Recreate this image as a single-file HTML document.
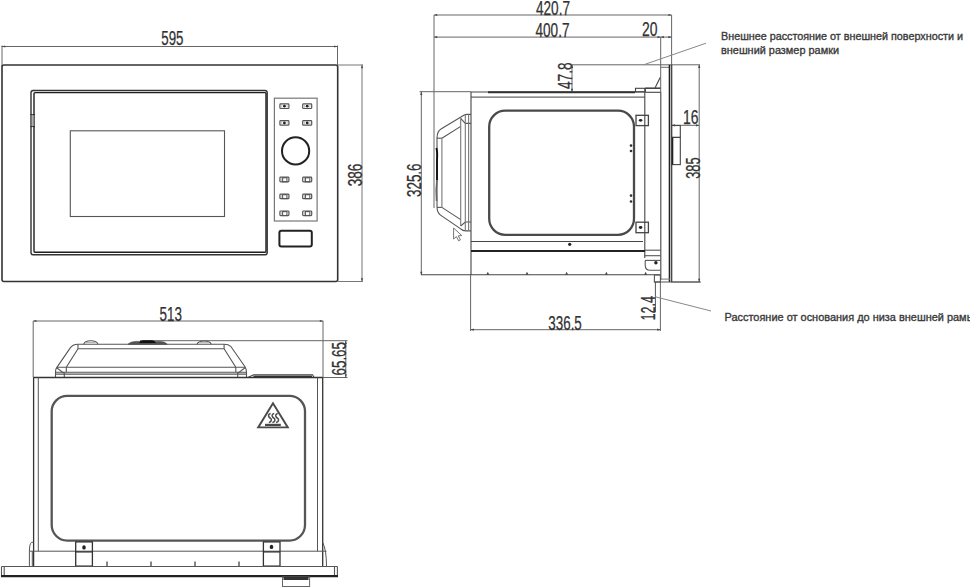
<!DOCTYPE html>
<html><head><meta charset="utf-8">
<style>
html,body{margin:0;padding:0;background:#fff;width:970px;height:588px;overflow:hidden}
svg{display:block}
.d{font-family:"Liberation Sans",sans-serif;font-size:20.5px;fill:#333}
.t{font-family:"Liberation Sans",sans-serif;font-size:11px;fill:#3a3a3a;stroke:#3a3a3a;stroke-width:0.35px}
</style></head><body>
<svg width="970" height="588" viewBox="0 0 970 588">
<rect width="970" height="588" fill="#fff"/>

<!-- ============ FRONT VIEW ============ -->
<g id="front" fill="none" stroke-linecap="square">
  <!-- dimension 595 -->
  <g stroke="#666" stroke-width="1">
    <line x1="2" y1="46.5" x2="337.5" y2="46.5"/>
    <line x1="2" y1="46" x2="2" y2="66"/>
    <line x1="337.5" y1="46" x2="337.5" y2="66"/>
  </g>
  <text class="d" x="161.3" y="44.8" textLength="22.2" lengthAdjust="spacingAndGlyphs" stroke="#2a2a2a" stroke-width="0.25">595</text>
  <!-- frame -->
  <rect x="2" y="65" width="335.7" height="216.5" rx="2" stroke="#333" stroke-width="1.6"/>
  <!-- door -->
  <rect x="31" y="90.5" width="236.2" height="164.3" rx="2.2" stroke="#333" stroke-width="1.4"/>
  <rect x="34" y="92.6" width="232" height="159.7" rx="1" stroke="#1e1e1e" stroke-width="1.4"/>
  <rect x="31.9" y="115" width="1.6" height="11.3" fill="#b5b5b5"/>
  <line x1="31" y1="114.6" x2="34.5" y2="114.6" stroke="#222" stroke-width="0.9"/>
  <line x1="31" y1="126.6" x2="34.5" y2="126.6" stroke="#222" stroke-width="0.9"/>
  <!-- window -->
  <rect x="70.3" y="130.8" width="154.2" height="85.7" stroke="#555" stroke-width="1.1"/>
  <!-- control panel -->
  <rect x="274.4" y="98.2" width="42.7" height="122.8" stroke="#777" stroke-width="1.2"/>
  <!-- knob -->
  <circle cx="295.6" cy="150.9" r="13.6" stroke="#222" stroke-width="2"/>
  <!-- start button -->
  <rect x="279.4" y="230.8" width="32.4" height="15.6" rx="2" stroke="#222" stroke-width="2"/>
  <!-- dimension 386 -->
  <g stroke="#777" stroke-width="1">
    <line x1="362" y1="65" x2="362" y2="281.5"/>
    <line x1="338" y1="65" x2="362.5" y2="65"/>
    <line x1="338" y1="281.5" x2="362.5" y2="281.5"/>
  </g>
  <text class="d" transform="translate(361.8 186.3) rotate(-90)" textLength="22.5" lengthAdjust="spacingAndGlyphs" stroke="#2a2a2a" stroke-width="0.25">386</text>
</g>
<!-- BUTTONS -->
<g id="btns" fill="none" stroke="#555" stroke-width="1.2">
<rect x="279.9" y="103.9" width="9.0" height="4.6" rx="0.8"/>
<circle cx="284.4" cy="106.2" r="1.4" fill="#222" stroke="none"/>
<line x1="281.7" y1="104.7" x2="281.7" y2="107.7" stroke="#aaa" stroke-width="0.7"/>
<line x1="287.1" y1="104.7" x2="287.1" y2="107.7" stroke="#aaa" stroke-width="0.7"/>
<rect x="302.7" y="103.9" width="9.0" height="4.6" rx="0.8"/>
<circle cx="307.2" cy="106.2" r="1.4" fill="#222" stroke="none"/>
<line x1="304.5" y1="104.7" x2="304.5" y2="107.7" stroke="#aaa" stroke-width="0.7"/>
<line x1="309.9" y1="104.7" x2="309.9" y2="107.7" stroke="#aaa" stroke-width="0.7"/>
<rect x="279.9" y="120.6" width="9.0" height="4.6" rx="0.8"/>
<circle cx="284.4" cy="122.9" r="1.4" fill="#222" stroke="none"/>
<line x1="281.7" y1="121.4" x2="281.7" y2="124.4" stroke="#aaa" stroke-width="0.7"/>
<line x1="287.1" y1="121.4" x2="287.1" y2="124.4" stroke="#aaa" stroke-width="0.7"/>
<rect x="302.7" y="120.6" width="9.0" height="4.6" rx="0.8"/>
<circle cx="307.2" cy="122.9" r="1.4" fill="#222" stroke="none"/>
<line x1="304.5" y1="121.4" x2="304.5" y2="124.4" stroke="#aaa" stroke-width="0.7"/>
<line x1="309.9" y1="121.4" x2="309.9" y2="124.4" stroke="#aaa" stroke-width="0.7"/>
<rect x="279.9" y="177.2" width="9.0" height="4.6" rx="0.8"/>
<rect x="282.6" y="177.8" width="4.3" height="3.9" stroke-width="1.1"/>
<line x1="281.7" y1="178.0" x2="281.7" y2="181.0" stroke="#aaa" stroke-width="0.7"/>
<line x1="287.1" y1="178.0" x2="287.1" y2="181.0" stroke="#aaa" stroke-width="0.7"/>
<rect x="302.7" y="177.2" width="9.0" height="4.6" rx="0.8"/>
<rect x="305.4" y="177.8" width="4.3" height="3.9" stroke-width="1.1"/>
<line x1="304.5" y1="178.0" x2="304.5" y2="181.0" stroke="#aaa" stroke-width="0.7"/>
<line x1="309.9" y1="178.0" x2="309.9" y2="181.0" stroke="#aaa" stroke-width="0.7"/>
<rect x="279.9" y="194.1" width="9.0" height="4.6" rx="0.8"/>
<rect x="282.6" y="194.7" width="4.3" height="3.9" stroke-width="1.1"/>
<line x1="281.7" y1="194.9" x2="281.7" y2="197.9" stroke="#aaa" stroke-width="0.7"/>
<line x1="287.1" y1="194.9" x2="287.1" y2="197.9" stroke="#aaa" stroke-width="0.7"/>
<rect x="302.7" y="194.1" width="9.0" height="4.6" rx="0.8"/>
<rect x="305.4" y="194.7" width="4.3" height="3.9" stroke-width="1.1"/>
<line x1="304.5" y1="194.9" x2="304.5" y2="197.9" stroke="#aaa" stroke-width="0.7"/>
<line x1="309.9" y1="194.9" x2="309.9" y2="197.9" stroke="#aaa" stroke-width="0.7"/>
<rect x="279.9" y="211.0" width="9.0" height="4.6" rx="0.8"/>
<rect x="282.6" y="211.6" width="4.3" height="3.9" stroke-width="1.1"/>
<line x1="281.7" y1="211.8" x2="281.7" y2="214.8" stroke="#aaa" stroke-width="0.7"/>
<line x1="287.1" y1="211.8" x2="287.1" y2="214.8" stroke="#aaa" stroke-width="0.7"/>
<rect x="302.7" y="211.0" width="9.0" height="4.6" rx="0.8"/>
<rect x="305.4" y="211.6" width="4.3" height="3.9" stroke-width="1.1"/>
<line x1="304.5" y1="211.8" x2="304.5" y2="214.8" stroke="#aaa" stroke-width="0.7"/>
<line x1="309.9" y1="211.8" x2="309.9" y2="214.8" stroke="#aaa" stroke-width="0.7"/>
</g>

<!-- ============ SIDE VIEW ============ -->
<g id="side" fill="none" stroke-linecap="butt">
  <!-- dimension lines (thin) -->
  <g stroke="#666" stroke-width="1">
    <line x1="434" y1="15" x2="671.6" y2="15"/>
    <line x1="434" y1="37.1" x2="671.6" y2="37.1"/>
    <line x1="434" y1="15" x2="434" y2="208"/>
    <line x1="671.6" y1="15" x2="671.6" y2="65"/>
    <line x1="660.7" y1="37" x2="660.7" y2="92"/>
    <line x1="572" y1="64.8" x2="700" y2="64.8"/>
    <line x1="572" y1="64.8" x2="572" y2="92"/>
    <line x1="419.5" y1="91.7" x2="471" y2="91.7"/>
    <line x1="421.3" y1="91.7" x2="421.3" y2="275"/>
    <line x1="470.6" y1="275" x2="470.6" y2="331"/>
    <line x1="470.6" y1="329.7" x2="660.4" y2="329.7"/>
    <line x1="660.4" y1="282" x2="660.4" y2="331"/>
    <line x1="655.4" y1="282" x2="655.4" y2="312" stroke="#555"/>
    <line x1="699.2" y1="64.8" x2="699.2" y2="281.8"/>
    <line x1="671" y1="282" x2="701" y2="282"/>
    <line x1="671" y1="125.3" x2="699.2" y2="125.3"/>
    <line x1="643.6" y1="64.8" x2="706" y2="43.2" stroke="#888"/>
    <line x1="655.4" y1="296.8" x2="711" y2="311" stroke="#888"/>
  </g>
  <!-- body -->
  <g stroke="#444" stroke-width="1.1">
    <line x1="471" y1="92" x2="645" y2="92"/>
    <line x1="471" y1="97.2" x2="645" y2="97.2" stroke="#666" stroke-width="1.3"/>
    <line x1="471" y1="92" x2="471" y2="275"/>
    <line x1="644.8" y1="88" x2="644.8" y2="258"/>
    <line x1="421" y1="274.8" x2="660" y2="274.8"/>
    <line x1="471" y1="241.5" x2="643" y2="241.5"/>
    <line x1="660.8" y1="92" x2="660.8" y2="280"/>
  </g>
  <line x1="488" y1="92.2" x2="635" y2="92.2" stroke="#333" stroke-width="1.9"/>
  <line x1="471" y1="251.1" x2="645" y2="251.1" stroke="#222" stroke-width="2"/>
  <circle cx="569.7" cy="244.3" r="1.6" fill="#222"/>
  <!-- ticks -->
  <g fill="#444">
    <path d="M486.3 274.8 L487.8 271.8 L489.3 274.8Z"/>
    <path d="M525.5 274.8 L527 271.8 L528.5 274.8Z"/>
    <path d="M565.1 274.8 L566.6 271.8 L568.1 274.8Z"/>
    <path d="M604.9 274.8 L606.4 271.8 L607.9 274.8Z"/>
    <path d="M644.1 274.8 L645.6 271.8 L647.1 274.8Z"/>
  </g>
  <!-- door inner rounded rect -->
  <rect x="489.2" y="110.7" width="144.8" height="124.1" rx="16" stroke="#4a4a4a" stroke-width="2.3"/>
  <g fill="#333">
    <circle cx="631" cy="145.6" r="1.3"/><circle cx="631" cy="151" r="1.3"/>
    <circle cx="631" cy="195.6" r="1.3"/><circle cx="631" cy="201.5" r="1.3"/>
  </g>
  <!-- brackets -->
  <g stroke="#444" stroke-width="1.3">
    <rect x="636" y="115.3" width="12.4" height="10.3"/>
    <rect x="636" y="222.2" width="12.4" height="10.5"/>
  </g>
  <ellipse cx="640.6" cy="120.3" rx="1.8" ry="1.4" fill="#222"/>
  <ellipse cx="640.6" cy="227.5" rx="1.8" ry="1.4" fill="#222"/>
  <!-- top step/bracket -->
  <g stroke="#444" stroke-width="1.1">
    <rect x="635.5" y="88.3" width="9.8" height="3.5"/>
    <line x1="645.3" y1="92.3" x2="660.6" y2="92.3"/>
    <line x1="655.1" y1="87.7" x2="660.2" y2="77.5"/>
    <line x1="660.6" y1="67.3" x2="669.5" y2="67.3" stroke="#777"/>
  </g>
  <line x1="645.3" y1="88.2" x2="660.6" y2="88.2" stroke="#444" stroke-width="1.6"/>
  <!-- frame (thick) -->
  <line x1="669.5" y1="64.8" x2="669.5" y2="282" stroke="#222" stroke-width="1.6"/>
  <line x1="671.7" y1="64.8" x2="671.7" y2="282" stroke="#333" stroke-width="1.2"/>
  <line x1="661" y1="279.1" x2="670" y2="279.1" stroke="#777" stroke-width="1"/>
  <g stroke="#444" stroke-width="1.1">
    <rect x="671.5" y="125.5" width="8.8" height="11.9"/>
    <rect x="671.5" y="137.4" width="8.8" height="27.2"/>
  </g>
  <line x1="672.6" y1="137.4" x2="672.6" y2="164.6" stroke="#222" stroke-width="1.4"/>
  <!-- foot bracket -->
  <g stroke="#555" stroke-width="1.1">
    <line x1="645" y1="250.2" x2="660.6" y2="250.2"/>
    <line x1="644.4" y1="255.7" x2="660.6" y2="255.7"/>
    <line x1="645" y1="260.4" x2="660.6" y2="260.4"/>
    <path d="M645.2 260.4 V265.2 Q645.2 270.2 650.2 270.2 H660.6"/>
    <rect x="654.4" y="275" width="6" height="7"/>
    <line x1="654.4" y1="282" x2="700" y2="282"/>
  </g>
  <circle cx="655.9" cy="262.8" r="1.7" fill="#222"/>
  <!-- handle -->
  <g stroke="#555" stroke-width="1.1">
    <path d="M437 207.4 V137.7 Q437.3 131 441 129 L463.8 115.2 Q465.5 114.4 467 114.4 H471"/>
    <path d="M437 207.4 Q437.3 213 440.5 215.1 L460.7 228.9 Q462.5 230.9 465.8 230.9 H471"/>
    <path d="M441.9 138.2 L460.7 126.4 M441.9 207.4 L460.7 219.6"/>
    <line x1="437" y1="138.2" x2="441.9" y2="138.2"/>
    <line x1="437" y1="207.4" x2="441.9" y2="207.4"/>
    <path d="M460.7 118.3 L465.3 123.4 H471 M460.7 226 L465.3 222 H471"/>
  </g>
  <g stroke="#777" stroke-width="1.1">
    <line x1="441.9" y1="138.2" x2="441.9" y2="207.4"/>
    <line x1="460.7" y1="118.3" x2="460.7" y2="226"/>
    <line x1="465.3" y1="114.4" x2="465.3" y2="230.9"/>
    <line x1="468.6" y1="114.4" x2="468.6" y2="230.9"/>
  </g>
  <path d="M436.4 148 Q437.6 152 437 160 V180" stroke="#111" stroke-width="1.9"/>
  <path d="M437 180 Q435.5 190 436.6 201" stroke="#666" stroke-width="1.6"/>
  <path d="M453.6 228 V239 L456.4 236.6 L458.6 240.8 L460.4 239.9 L458.3 235.8 L461.8 235.6 Z" fill="#fff" stroke="#666" stroke-width="0.9"/>
</g>


<!-- ============ TOP VIEW ============ -->
<g id="top" fill="none" stroke-linecap="butt">
  <!-- dims -->
  <g stroke="#666" stroke-width="1">
    <line x1="33.2" y1="321" x2="323.2" y2="321"/>
    <line x1="33.2" y1="321" x2="33.2" y2="377.5"/>
    <line x1="323" y1="321" x2="323" y2="377.5"/>
    <line x1="140" y1="340.7" x2="347.5" y2="340.7"/>
    <line x1="345.8" y1="340.7" x2="345.8" y2="377.5"/>
    <line x1="323" y1="377.5" x2="347.5" y2="377.5"/>
  </g>
  <!-- handle -->
  <g stroke="#555" stroke-width="1.1">
    <path d="M55.5 377.5 V372 Q55.5 369 56.6 367.8 L69.9 348.4 Q72.5 344.3 78 344.3 H224.1 Q228.5 344.3 230.7 346.3 L245 366.7 Q246.5 369 246.5 372 V377.5"/>
    <line x1="78" y1="344.3" x2="78" y2="348.8"/>
    <line x1="224.1" y1="344.3" x2="224.1" y2="348.8"/>
    <path d="M66.3 367.2 L78 348.8 H224.1 L235.8 367.2"/>
    <line x1="56.6" y1="367.2" x2="245" y2="367.2"/>
    <line x1="55.5" y1="372.3" x2="246.5" y2="372.3"/>
    <line x1="55.5" y1="374.1" x2="246.5" y2="374.1"/>
    <path d="M56.6 367.8 L64.3 373.4 M66.3 367.2 V372.3 M64.3 372.3 V377.5"/>
    <path d="M245 367.8 L237.7 373.4 M235.8 367.2 V372.3 M237.7 372.3 V377.5"/>
    <path d="M83.7 344.3 Q84.5 340.8 90.8 340.8 Q97 340.8 98 344.3"/>
    <line x1="86" y1="342.6" x2="95.6" y2="342.6" stroke="#999" stroke-width="0.8"/>
    <path d="M197 344.3 Q198 341 204.2 341 Q210.4 341 211.3 344.3"/>
    <line x1="199.3" y1="342.7" x2="209" y2="342.7" stroke="#999" stroke-width="0.8"/>
  </g>
  <path d="M128 344.3 Q130 341.6 136 341.4 H160 Q165.5 341.6 167.2 344.3 Z" fill="#555" stroke="#444" stroke-width="0.6"/>
  <path d="M139 343 Q140 340.4 143 340.3 H152 Q155 340.4 156 343 Z" fill="#111"/>
  <!-- top plate -->
  <path d="M246.5 377.5 H248 L253.5 374.8 H312.6 L314 377.5" stroke="#444" stroke-width="1.1"/>
  <line x1="253.5" y1="376.3" x2="312" y2="376.3" stroke="#333" stroke-width="1.4"/>
  <!-- body -->
  <g stroke="#333" stroke-width="1.3">
    <line x1="33.4" y1="377.5" x2="322.8" y2="377.5"/>
    <line x1="33.6" y1="377.5" x2="33.6" y2="566.3"/>
    <line x1="322.7" y1="377.5" x2="322.7" y2="566.3"/>
  </g>
  <g stroke="#555" stroke-width="1">
    <line x1="38.3" y1="377.5" x2="38.3" y2="551.2"/>
    <line x1="317.5" y1="377.5" x2="317.5" y2="551.2"/>
    <line x1="29.4" y1="551.2" x2="326.5" y2="551.2"/>
    <path d="M33.6 542.3 H31.5 Q29.4 544 29.4 551.2 V566.3 M32.3 551.2 V566.3"/>
    <path d="M322.7 542.3 Q326.5 550 326.5 566.3"/>
  </g>
  <rect x="51.7" y="395.8" width="253.3" height="144.8" rx="15.5" stroke="#555" stroke-width="2.3"/>
  <!-- warning triangle -->
  <path d="M273 403.2 L258.2 427.4 H287.8 Z" stroke="#4a4a4a" stroke-width="1.9" stroke-linejoin="miter"/>
  <g stroke="#4a4a4a" stroke-width="1.5">
    <path d="M270.6 413.6 q-2.4 0.4 -2 2.4 q0.4 1.6 1.8 2.2 q1.4 0.8 0.8 2.6 q-0.5 1.6 -2.4 1.6"/>
    <path d="M274.2 413.6 q-2.4 0.4 -2 2.4 q0.4 1.6 1.8 2.2 q1.4 0.8 0.8 2.6 q-0.5 1.6 -2.4 1.6"/>
    <path d="M277.8 413.6 q-2.4 0.4 -2 2.4 q0.4 1.6 1.8 2.2 q1.4 0.8 0.8 2.6 q-0.5 1.6 -2.4 1.6"/>
  </g>
  <rect x="265" y="423.8" width="15.8" height="2.2" fill="#4a4a4a"/>
  <!-- brackets -->
  <g stroke="#333" stroke-width="1.3">
    <rect x="75.7" y="541.9" width="16.7" height="24.2"/>
    <line x1="75.7" y1="551.9" x2="92.4" y2="551.9"/>
    <rect x="263.4" y="541.9" width="16.6" height="24.2"/>
    <line x1="263.4" y1="551.9" x2="280" y2="551.9"/>
  </g>
  <path d="M82.3 547 a1.7 1.7 0 0 1 3.4 0 v0.9 a1.7 1.7 0 0 1 -3.4 0Z" fill="#222"/>
  <path d="M269.8 546.5 a1.7 1.7 0 0 1 3.4 0 v0.9 a1.7 1.7 0 0 1 -3.4 0Z" fill="#222"/>
  <!-- ticks -->
  <g stroke="#333" stroke-width="1.2">
    <line x1="107" y1="561.5" x2="107" y2="566"/>
    <line x1="151" y1="561.5" x2="151" y2="566"/>
    <line x1="195" y1="561.5" x2="195" y2="566"/>
    <line x1="239" y1="561.5" x2="239" y2="566"/>
  </g>
  <!-- base plate -->
  <g stroke="#555" stroke-width="1.1">
    <line x1="1.5" y1="566.5" x2="337.4" y2="566.5"/>
    <line x1="1.5" y1="566.5" x2="1.5" y2="576.4"/>
    <line x1="4.2" y1="566.5" x2="4.2" y2="576.4"/>
    <line x1="334.5" y1="566.5" x2="334.5" y2="576.4"/>
    <line x1="337.4" y1="566.5" x2="337.4" y2="576.4"/>
  </g>
  <line x1="1" y1="576.2" x2="338" y2="576.2" stroke="#222" stroke-width="2.2"/>
  <!-- foot -->
  <rect x="282.5" y="577" width="27.1" height="9.5" stroke="#666" stroke-width="1"/>
  <rect x="283.5" y="577" width="25" height="3" fill="#333"/>
</g>


<g id="dims" class="d" stroke="#2a2a2a" stroke-width="0.25">
  <text x="536" y="14.6" textLength="34" lengthAdjust="spacingAndGlyphs">420.7</text>
  <text x="535.5" y="36.5" textLength="34" lengthAdjust="spacingAndGlyphs">400.7</text>
  <text x="642" y="36.3" textLength="15.5" lengthAdjust="spacingAndGlyphs">20</text>
  <text x="683" y="123.8" textLength="15.5" lengthAdjust="spacingAndGlyphs">16</text>
  <text x="548.3" y="330" textLength="33.5" lengthAdjust="spacingAndGlyphs">336.5</text>
  <text x="159.5" y="321" textLength="22.4" lengthAdjust="spacingAndGlyphs">513</text>
  <text transform="translate(571.8 89) rotate(-90)" textLength="26.5" lengthAdjust="spacingAndGlyphs">47.8</text>
  <text transform="translate(421.2 197) rotate(-90)" textLength="33.5" lengthAdjust="spacingAndGlyphs">325.6</text>
  <text transform="translate(699.8 178.8) rotate(-90)" textLength="21.5" lengthAdjust="spacingAndGlyphs">385</text>
  <text transform="translate(655 320.5) rotate(-90)" textLength="24.5" lengthAdjust="spacingAndGlyphs">12.4</text>
  <text transform="translate(345.8 375.5) rotate(-90)" textLength="33.5" lengthAdjust="spacingAndGlyphs">65.65</text>
</g>

<g id="arrows" fill="#444">
<path d="M2 46.5 L5.2 45.4 L5.2 47.6Z"/>
<path d="M337.5 46.5 L334.3 45.4 L334.3 47.6Z"/>
<path d="M362 65 L360.9 68.2 L363.1 68.2Z"/>
<path d="M362 281.5 L360.9 278.3 L363.1 278.3Z"/>
<path d="M434 15 L437.2 13.9 L437.2 16.1Z"/>
<path d="M671.6 15 L668.4 13.9 L668.4 16.1Z"/>
<path d="M434 37.1 L437.2 36.0 L437.2 38.2Z"/>
<path d="M660.7 37.1 L657.5 36.0 L657.5 38.2Z"/>
<path d="M660.7 37.1 L663.9000000000001 36.0 L663.9000000000001 38.2Z"/>
<path d="M671.6 37.1 L668.4 36.0 L668.4 38.2Z"/>
<path d="M572 64.8 L570.9 68.0 L573.1 68.0Z"/>
<path d="M572 92 L570.9 88.8 L573.1 88.8Z"/>
<path d="M421.3 91.7 L420.2 94.9 L422.40000000000003 94.9Z"/>
<path d="M421.3 275 L420.2 271.8 L422.40000000000003 271.8Z"/>
<path d="M470.6 329.7 L473.8 328.59999999999997 L473.8 330.8Z"/>
<path d="M660.4 329.7 L657.1999999999999 328.59999999999997 L657.1999999999999 330.8Z"/>
<path d="M699.2 64.8 L698.1 68.0 L700.3000000000001 68.0Z"/>
<path d="M699.2 282 L698.1 278.8 L700.3000000000001 278.8Z"/>
<path d="M671.7 125.3 L674.9000000000001 124.2 L674.9000000000001 126.39999999999999Z"/>
<path d="M699.2 125.3 L696.0 124.2 L696.0 126.39999999999999Z"/>
<path d="M33.2 321 L36.400000000000006 319.9 L36.400000000000006 322.1Z"/>
<path d="M323 321 L319.8 319.9 L319.8 322.1Z"/>
<path d="M345.8 340.7 L344.7 343.9 L346.90000000000003 343.9Z"/>
<path d="M345.8 377.5 L344.7 374.3 L346.90000000000003 374.3Z"/>
</g>
<!-- notes -->
<text class="t" x="721" y="40" textLength="242" lengthAdjust="spacingAndGlyphs">Внешнее расстояние от внешней поверхности и</text>
<text class="t" x="721" y="54" textLength="118" lengthAdjust="spacingAndGlyphs">внешний размер рамки</text>
<text class="t" x="724.5" y="320.6" textLength="250" lengthAdjust="spacingAndGlyphs">Расстояние от основания до низа внешней рамы</text>
</svg>
</body></html>
